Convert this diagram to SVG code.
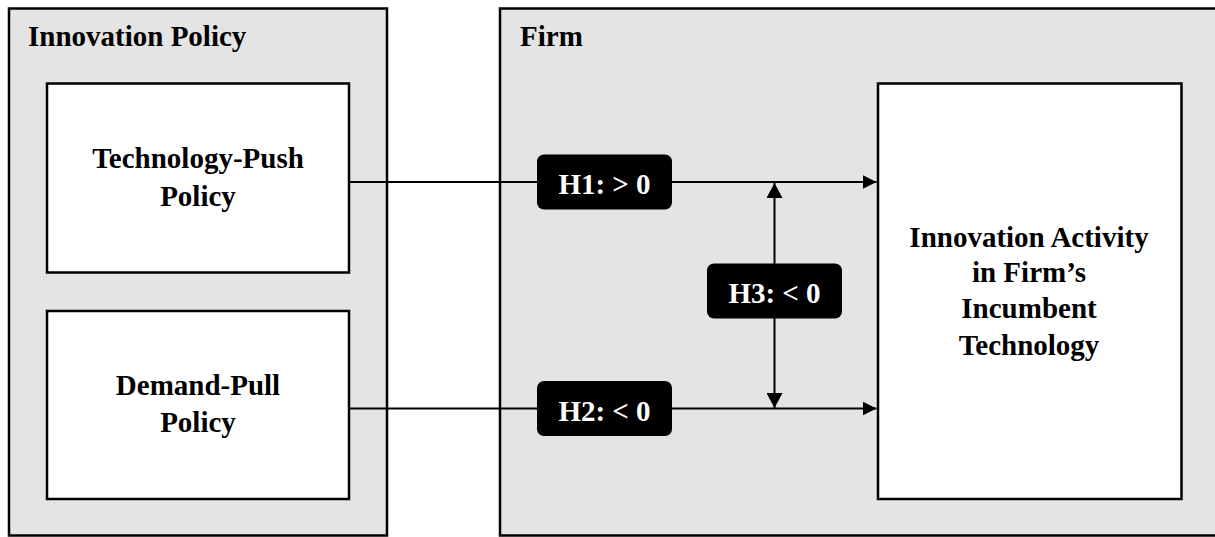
<svg xmlns="http://www.w3.org/2000/svg" width="1215" height="537" viewBox="0 0 1215 537">
  <style>
    .panel { fill: #e4e4e4; stroke: #000; stroke-width: 2.5; }
    .box { fill: #fff; stroke: #000; stroke-width: 2.5; }
    .tag { fill: #000; }
    .title { font-family: "Liberation Serif", "Times New Roman", serif; font-weight: bold; font-size: 29px; fill: #000; }
    .label { font-family: "Liberation Serif", "Times New Roman", serif; font-weight: bold; font-size: 29px; fill: #000; text-anchor: middle; }
    .tagtext { font-family: "Liberation Serif", "Times New Roman", serif; font-weight: bold; font-size: 29px; fill: #fff; text-anchor: middle; }
    .wire { stroke: #000; stroke-width: 2; fill: none; }
  </style>
  <defs>
    <marker id="head" viewBox="0 0 14 14" refX="14" refY="7" markerWidth="14" markerHeight="14" markerUnits="userSpaceOnUse" orient="auto-start-reverse">
      <path d="M0,0 L14,7 L0,14 Z" fill="#000"/>
    </marker>
    <marker id="headV" viewBox="0 0 15 16" refX="15" refY="8" markerWidth="15" markerHeight="16" markerUnits="userSpaceOnUse" orient="auto-start-reverse">
      <path d="M0,0 L15,8 L0,16 Z" fill="#000"/>
    </marker>
  </defs>

  <!-- Policy panel -->
  <g id="innovation-policy">
    <rect class="panel" x="9" y="8.5" width="378" height="527"/>
    <text class="title" x="28" y="46">Innovation Policy</text>
  </g>

  <!-- Firm panel (runs off the right edge) -->
  <g id="firm">
    <rect class="panel" x="500" y="8.5" width="730" height="527"/>
    <text class="title" x="520" y="46">Firm</text>
  </g>

  <g id="technology-push">
    <rect class="box" x="47" y="83.5" width="302" height="189"/>
    <text class="label" x="198" y="168">Technology-Push</text>
    <text class="label" x="198" y="206">Policy</text>
  </g>

  <g id="demand-pull">
    <rect class="box" x="47" y="311" width="302" height="188"/>
    <text class="label" x="198" y="395">Demand-Pull</text>
    <text class="label" x="198" y="432">Policy</text>
  </g>

  <g id="incumbent-activity">
    <rect class="box" x="878" y="83.5" width="303.5" height="415.5"/>
    <text class="label" x="1029" y="247">Innovation Activity</text>
    <text class="label" x="1029" y="282">in Firm’s</text>
    <text class="label" x="1029" y="318">Incumbent</text>
    <text class="label" x="1029" y="355">Technology</text>
  </g>

  <!-- Connectors -->
  <g id="connectors">
    <line class="wire" x1="349" y1="182" x2="876.5" y2="182" marker-end="url(#head)"/>
    <line class="wire" x1="349" y1="408.5" x2="876.5" y2="408.5" marker-end="url(#head)"/>
    <line class="wire" x1="774.5" y1="183" x2="774.5" y2="408" marker-start="url(#headV)" marker-end="url(#headV)"/>
  </g>

  <!-- Hypothesis tags -->
  <g id="h1">
    <rect class="tag" x="537" y="154.5" width="135" height="55" rx="7"/>
    <text class="tagtext" x="604.5" y="194">H1: &gt; 0</text>
  </g>
  <g id="h2">
    <rect class="tag" x="537" y="381" width="135" height="55" rx="7"/>
    <text class="tagtext" x="604.5" y="421">H2: &lt; 0</text>
  </g>
  <g id="h3">
    <rect class="tag" x="707" y="263.5" width="135" height="55" rx="7"/>
    <text class="tagtext" x="774.5" y="303">H3: &lt; 0</text>
  </g>
</svg>
